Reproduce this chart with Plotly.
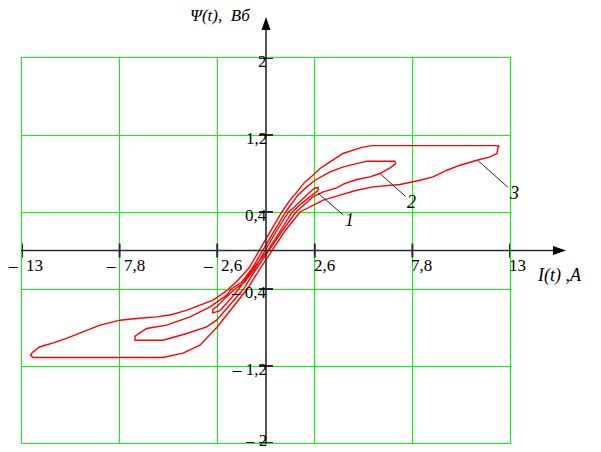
import plotly.graph_objects as go

# Hysteresis loops Ψ(I): each loop is a closed path, upper branch first
# (from the right tip to the left tip), then the lower branch back.
loop1_I = [2.80, 2.60, 2.30, 1.90, 1.50, 1.20, 0.55, -0.05, -0.60, -1.15, -1.65,
           -2.20, -2.60, -2.82, -2.85,
           -2.80, -2.50, -2.10, -1.45, -0.75, 0.10, 0.75, 1.40, 1.90, 2.40, 2.75, 2.80]
loop1_Psi = [0.655, 0.650, 0.600, 0.520, 0.450, 0.400, 0.200, 0.000, -0.190, -0.330, -0.400,
             -0.500, -0.580, -0.610, -0.650,
             -0.645, -0.630, -0.550, -0.400, -0.200, 0.000, 0.200, 0.400, 0.490, 0.570, 0.620, 0.655]

loop2_I = [6.90, 6.87, 5.38, 4.83, 4.12, 3.41, 2.61, 2.17, 1.70, 1.30, 1.05, 0.40, -0.18,
           -0.75, -1.30, -1.85, -2.09, -2.98, -4.05, -5.29, -6.36, -6.98, -6.98,
           -5.49, -4.22, -3.16, -2.63, -2.00, -1.20, -0.55, 0.15, 0.85, 1.60, 2.10, 2.52,
           3.05, 3.77, 4.12, 4.83, 5.54, 6.07, 6.61, 6.90, 6.90]
loop2_Psi = [0.915, 0.928, 0.928, 0.904, 0.869, 0.817, 0.730, 0.661, 0.575, 0.470, 0.400, 0.190, 0.000,
             -0.190, -0.330, -0.400, -0.464, -0.586, -0.690, -0.776, -0.810, -0.890, -0.932,
             -0.932, -0.862, -0.794, -0.724, -0.580, -0.400, -0.200, 0.000, 0.200, 0.400, 0.490, 0.560,
             0.609, 0.650, 0.690, 0.738, 0.765, 0.800, 0.858, 0.900, 0.915]

loop3_I = [12.36, 12.42, 12.20, 8.00, 5.65, 5.10, 4.48, 4.10, 3.41, 2.88, 2.50, 2.08, 1.65, 1.28,
           0.84, 0.25, -0.33, -0.90, -1.50, -2.05, -2.82, -3.50, -4.21, -5.00, -5.82, -6.89,
           -7.78, -8.84, -9.91, -10.60, -11.33, -12.04, -12.45, -12.55,
           -12.40, -9.00, -5.49, -4.42, -3.52, -2.61, -1.74, -1.00, -0.35, 0.33, 1.00, 1.81,
           2.30, 2.70, 3.05, 3.94, 4.83, 5.70, 7.14, 8.20, 8.90, 9.64, 10.34, 11.24, 11.93,
           12.31, 12.36]
loop3_Psi = [1.070, 1.085, 1.090, 1.090, 1.090, 1.072, 1.037, 1.008, 0.921, 0.852, 0.782, 0.713, 0.609, 0.523,
             0.400, 0.200, 0.000, -0.180, -0.310, -0.410, -0.516, -0.570, -0.620, -0.665, -0.690, -0.706,
             -0.724, -0.776, -0.862, -0.910, -0.960, -1.000, -1.060, -1.090,
             -1.112, -1.112, -1.112, -1.067, -0.984, -0.797, -0.586, -0.400, -0.200, 0.000, 0.200, 0.400,
             0.450, 0.488, 0.523, 0.575, 0.626, 0.661, 0.686, 0.730, 0.765, 0.834, 0.886, 0.938, 0.972,
             1.008, 1.070]

# Axis ticks / grid positions
i_ticks = [-13, -7.8, -2.6, 2.6, 7.8, 13]
psi_ticks = [-2, -1.2, -0.4, 0.4, 1.2, 2]

# Curve number labels: (label, point on curve, label centre)
curve_labels = ["1", "2", "3"]
label_point_I = [2.79, 6.07, 11.31]
label_point_Psi = [0.592, 0.80, 0.931]
label_text_I = [4.44, 7.76, 13.23]
label_text_Psi = [0.315, 0.505, 0.598]

W, H = 601, 452
ML, MR, MT, MB = 22, 91, 58, 9
PW, PH = W - ML - MR, H - MT - MB

GREEN = "#00ff00"
RED = "#ff0000"
AXIS = "#2a2a2a"
FONT = "Liberation Serif, 'Times New Roman', serif"


def px_x(px):
    return (px - ML) / PW


def px_y(py):
    return (H - MB - py) / PH


def num(v):
    return f"{abs(v):g}".replace(".", ",")


def fmt(v):
    return f"– {num(v)}" if v < 0 else num(v)


fig = go.Figure()

for xs, ys in [(loop1_I, loop1_Psi), (loop2_I, loop2_Psi), (loop3_I, loop3_Psi)]:
    fig.add_trace(go.Scatter(x=xs, y=ys, mode="lines",
                             line=dict(color=RED, width=1.4),
                             hoverinfo="skip", showlegend=False))

# tick marks crossing the axis lines
fig.add_trace(go.Scatter(x=i_ticks, y=[0] * len(i_ticks), mode="markers",
                         marker=dict(symbol="line-ns-open", size=10, color=AXIS,
                                     line=dict(color=AXIS, width=2)),
                         cliponaxis=False, hoverinfo="skip", showlegend=False))
fig.add_trace(go.Scatter(x=[0] * len(psi_ticks), y=psi_ticks, mode="markers",
                         marker=dict(symbol="line-ew-open", size=10, color=AXIS,
                                     line=dict(color=AXIS, width=2)),
                         cliponaxis=False, hoverinfo="skip", showlegend=False))

# axis lines through the origin, extended past the grid, with arrowheads
x_axis_y = px_y(MT + PH / 2)
y_axis_x = px_x(ML + PW / 2)
ox, oy = ML + PW / 2, MT + PH / 2
shapes = [
    dict(type="line", xref="paper", yref="paper", x0=px_x(21), x1=px_x(556),
         y0=x_axis_y, y1=x_axis_y, line=dict(color=AXIS, width=1.6)),
    dict(type="line", xref="paper", yref="paper", x0=y_axis_x, x1=y_axis_x,
         y0=px_y(444), y1=px_y(28), line=dict(color=AXIS, width=1.6)),
    dict(type="path", xref="paper", yref="paper",
         path=(f"M {px_x(566)} {px_y(oy)} L {px_x(553)} {px_y(oy - 4.5)} "
               f"L {px_x(553)} {px_y(oy + 4.5)} Z"),
         fillcolor="black", line=dict(color="black", width=0)),
    dict(type="path", xref="paper", yref="paper",
         path=(f"M {px_x(ox)} {px_y(17)} L {px_x(ox - 4.5)} {px_y(30)} "
               f"L {px_x(ox + 4.5)} {px_y(30)} Z"),
         fillcolor="black", line=dict(color="black", width=0)),
]

annotations = []
tick_font = dict(family=FONT, size=17, color="black")

# I tick labels: sign to the left of the tick, number to the right
for v in i_ticks:
    if v < 0:
        annotations.append(dict(xref="x", yref="y", x=v, y=0, text="–",
                                showarrow=False, xanchor="right", yanchor="top",
                                xshift=-2, yshift=-3, font=tick_font))
        annotations.append(dict(xref="x", yref="y", x=v, y=0, text=num(v),
                                showarrow=False, xanchor="left", yanchor="top",
                                xshift=2, yshift=-3, font=tick_font))
    else:
        annotations.append(dict(xref="x", yref="y", x=v, y=0, text=num(v),
                                showarrow=False, xanchor="left", yanchor="top",
                                xshift=-3, yshift=-3, font=tick_font))
for v in psi_ticks:
    if v > -2:
        annotations.append(dict(xref="x", yref="y", x=0, y=v, text=fmt(v),
                                showarrow=False, xanchor="right", yanchor="middle",
                                xshift=3, yshift=-3, font=tick_font))
    else:
        # lowest label sits at the bottom edge of the figure
        annotations.append(dict(xref="x", yref="y", x=0, y=v, text=fmt(v),
                                showarrow=False, xanchor="right", yanchor="bottom",
                                xshift=3, yshift=-9, font=tick_font))

# axis titles
annotations.append(dict(xref="paper", yref="paper", x=px_x(252), y=px_y(16),
                        text="<i>Ψ(t),  Вб</i>", showarrow=False,
                        xanchor="right", yanchor="middle",
                        font=dict(family=FONT, size=17, color="black")))
annotations.append(dict(xref="paper", yref="paper", x=px_x(535), y=px_y(275),
                        text="<i>I(t) ,A</i>", showarrow=False,
                        xanchor="left", yanchor="middle",
                        font=dict(family=FONT, size=18, color="black")))

# curve numbers with leader lines
for lab, pxv, pyv, tx, ty in zip(curve_labels, label_point_I, label_point_Psi,
                                 label_text_I, label_text_Psi):
    annotations.append(dict(xref="x", yref="y", x=pxv, y=pyv,
                            axref="x", ayref="y", ax=tx, ay=ty,
                            text=f"<i>{lab}</i>", showarrow=True, arrowhead=0,
                            arrowwidth=1, arrowcolor=AXIS, standoff=0,
                            font=dict(family=FONT, size=18, color="black")))

fig.update_layout(
    width=W, height=H,
    margin=dict(l=ML, r=MR, t=MT, b=MB),
    paper_bgcolor="white", plot_bgcolor="white",
    showlegend=False,
    shapes=shapes,
    annotations=annotations,
    xaxis=dict(range=[-13, 13], tickvals=i_ticks, showticklabels=False,
               showgrid=True, gridcolor=GREEN, gridwidth=1, zeroline=False,
               showline=True, mirror=True, linecolor=GREEN, linewidth=1,
               ticks="", fixedrange=True),
    yaxis=dict(range=[-2, 2], tickvals=psi_ticks, showticklabels=False,
               showgrid=True, gridcolor=GREEN, gridwidth=1, zeroline=False,
               showline=True, mirror=True, linecolor=GREEN, linewidth=1,
               ticks="", fixedrange=True),
)

fig.write_html("out.html")
